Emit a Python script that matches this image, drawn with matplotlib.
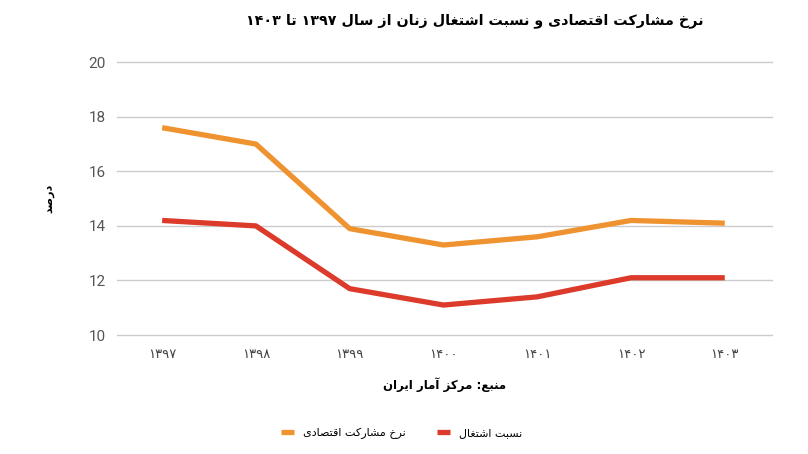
import matplotlib
matplotlib.use('Agg')
import matplotlib.pyplot as plt

# ----- data -----
years = ['۱۳۹۷', '۱۳۹۸', '۱۳۹۹', '۱۴۰۰', '۱۴۰۱', '۱۴۰۲', '۱۴۰۳']
mosharekat = [17.6, 17.0, 13.9, 13.3, 13.6, 14.2, 14.1]
eshteghal = [14.2, 14.0, 11.7, 11.1, 11.4, 12.1, 12.1]

title = 'نرخ مشارکت اقتصادی و نسبت اشتغال زنان از سال ۱۳۹۷ تا ۱۴۰۳'
ylabel = 'درصد'
source = 'منبع: مرکز آمار ایران'
name_mosharekat = 'نرخ مشارکت اقتصادی'
name_eshteghal = 'نسبت اشتغال'

# ----- simple persian shaping (matplotlib has no bidi / joining) -----
# letter: (isolated, final, initial, medial) ; None = does not join forward
forms = {
    'ا': ('\uFE8D', '\uFE8E', None, None),
    'آ': ('\uFE81', '\uFE82', None, None),
    'ب': ('\uFE8F', '\uFE90', '\uFE91', '\uFE92'),
    'ت': ('\uFE95', '\uFE96', '\uFE97', '\uFE98'),
    'خ': ('\uFEA5', '\uFEA6', '\uFEA7', '\uFEA8'),
    'د': ('\uFEA9', '\uFEAA', None, None),
    'ر': ('\uFEAD', '\uFEAE', None, None),
    'ز': ('\uFEAF', '\uFEB0', None, None),
    'س': ('\uFEB1', '\uFEB2', '\uFEB3', '\uFEB4'),
    'ش': ('\uFEB5', '\uFEB6', '\uFEB7', '\uFEB8'),
    'ص': ('\uFEB9', '\uFEBA', '\uFEBB', '\uFEBC'),
    'ع': ('\uFEC9', '\uFECA', '\uFECB', '\uFECC'),
    'غ': ('\uFECD', '\uFECE', '\uFECF', '\uFED0'),
    'ق': ('\uFED5', '\uFED6', '\uFED7', '\uFED8'),
    'ل': ('\uFEDD', '\uFEDE', '\uFEDF', '\uFEE0'),
    'م': ('\uFEE1', '\uFEE2', '\uFEE3', '\uFEE4'),
    'ن': ('\uFEE5', '\uFEE6', '\uFEE7', '\uFEE8'),
    'و': ('\uFEED', '\uFEEE', None, None),
    'ک': ('\uFB8E', '\uFB8F', '\uFB90', '\uFB91'),
    'ی': ('\uFBFC', '\uFBFD', '\uFBFE', '\uFBFF'),
}


def shape_word(w):
    out = ''
    for i, c in enumerate(w):
        if c not in forms:
            out += c
            continue
        prev = w[i - 1] if i > 0 else ''
        nxt = w[i + 1] if i < len(w) - 1 else ''
        join_prev = prev in forms and forms[prev][2] is not None
        join_next = forms[c][2] is not None and nxt in forms
        if join_prev and join_next:
            out += forms[c][3]
        elif join_prev:
            out += forms[c][1]
        elif join_next:
            out += forms[c][2]
        else:
            out += forms[c][0]
    return out


def fa(s):
    words = s.split(' ')
    res = []
    for w in reversed(words):
        if w and all('\u06F0' <= ch <= '\u06F9' for ch in w):
            res.append(w)
        else:
            res.append(shape_word(w)[::-1])
    return ' '.join(res)


plt.rcParams['font.family'] = ['DejaVu Sans']

orange = '#EF9330'
red = '#DC3A2B'

fig = plt.figure(figsize=(8.08, 4.54), dpi=100)
ax = fig.add_axes([0.145, 0.262, 0.81, 0.601])

x = range(len(years))
ax.plot(x, mosharekat, color=orange, linewidth=3.8, solid_capstyle='butt',
        label=fa(name_mosharekat))
ax.plot(x, eshteghal, color=red, linewidth=3.8, solid_capstyle='butt',
        label=fa(name_eshteghal))

ax.set_xlim(-0.48, 6.5)
ax.set_ylim(10, 20)
ax.set_yticks([10, 12, 14, 16, 18, 20])
ax.set_xticks(list(x))
ax.set_xticklabels(years, fontsize=9.5, color='#444444')
for lab in ax.get_yticklabels():
    lab.set_fontfamily('Roboto')
    lab.set_fontsize(11)
    lab.set_color('#555555')

ax.grid(axis='y', color='#cccccc', linewidth=1)
for gl in ax.get_ygridlines():
    gl.set_clip_on(False)
ax.set_axisbelow(True)
for sp in ax.spines.values():
    sp.set_visible(False)
ax.tick_params(axis='x', length=0, pad=9)
ax.tick_params(axis='y', length=0, pad=8)

ax.set_ylabel(fa(ylabel), fontsize=8, fontweight='bold', labelpad=25)
ax.set_xlabel(fa(source), fontsize=8.5, fontweight='bold', labelpad=12)

fig.text(0.588, 0.955, fa(title), fontsize=10.3, fontweight='bold',
         ha='center', va='center')

ax.legend(loc='center', bbox_to_anchor=(0.435, -0.36), ncol=2, frameon=False,
          fontsize=8, handlelength=1.2, handletextpad=0.8, columnspacing=2.8)

fig.savefig('out.png', dpi=100)
